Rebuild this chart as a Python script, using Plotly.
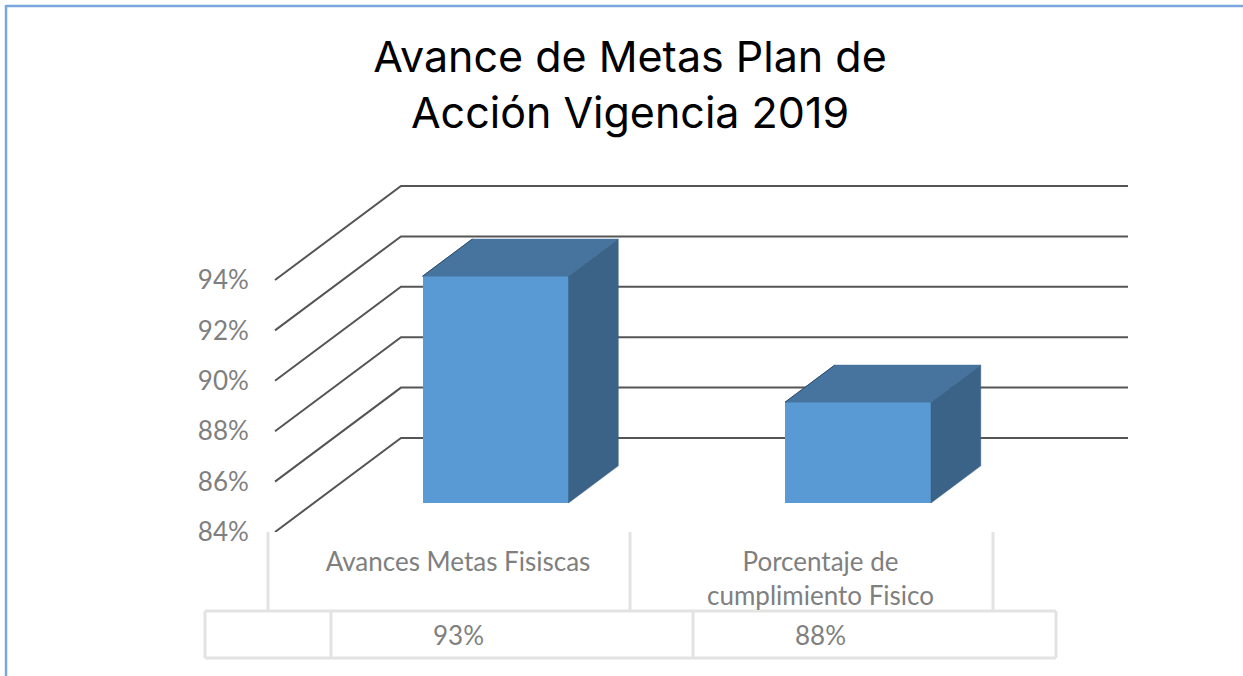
import plotly.graph_objects as go

# ---- data ----
title_text = "Avance de Metas Plan de<br>Acción Vigencia 2019"
categories = ["Avances Metas Fisiscas", "Porcentaje de<br>cumplimiento Fisico"]
values = [93, 88]
value_labels = ["93%", "88%"]
y_ticks = [84, 86, 88, 90, 92, 94]
y_tick_labels = ["84%", "86%", "88%", "90%", "92%", "94%"]

# ---- page geometry (pixels) ----
W, H = 1243, 676
PLOT_L, PLOT_R, PLOT_T, PLOT_B = 268, 1128, 185, 532
CAT_PX = 362.5          # pixels per category
CAT0_PX = 458           # pixel of first category label
PCT_PX = 25.2           # pixels per percentage point

x_range = [(PLOT_L - CAT0_PX) / CAT_PX, (PLOT_R - CAT0_PX) / CAT_PX]
y_range = [84, 84 + (PLOT_B - PLOT_T) / PCT_PX]

# oblique depth of the 3D floor, in axis units
DEPTH_X = 126 / CAT_PX
DEPTH_Y = 94 / PCT_PX
BAR_D0 = 0.3085         # depth where a bar's front face sits
BAR_D = 0.395           # depth of a bar
BAR_W = 146 / CAT_PX
BAR_SHIFT = (495.5 - CAT0_PX) / CAT_PX
WALL_X0 = (275 - CAT0_PX) / CAT_PX

FRONT, TOP, SIDE = "#5A9AD4", "#46749F", "#3A6387"
GRID = "#555555"
TEXT = "#7f7f7f"
TABLE = "#e3e3e3"
FONT = "Lato, Carlito, sans-serif"


def paper_line(x0, y0, x1, y1, color, width):
    return dict(type="line", xref="paper", yref="paper",
                x0=(x0 - PLOT_L) / (PLOT_R - PLOT_L), x1=(x1 - PLOT_L) / (PLOT_R - PLOT_L),
                y0=(PLOT_B - y0) / (PLOT_B - PLOT_T), y1=(PLOT_B - y1) / (PLOT_B - PLOT_T),
                line=dict(color=color, width=width), layer="below")


fig = go.Figure()

# gridlines on the side wall and back wall
for t in y_ticks:
    fig.add_trace(go.Scatter(
        x=[WALL_X0, WALL_X0 + DEPTH_X, x_range[1]],
        y=[t, t + DEPTH_Y, t + DEPTH_Y],
        mode="lines", line=dict(color=GRID, width=2),
        hoverinfo="skip", showlegend=False, cliponaxis=False))

# bar front faces
bar_x = [i + BAR_SHIFT for i in range(len(values))]
bar_base = 84 + BAR_D0 * DEPTH_Y
fig.add_trace(go.Bar(
    x=bar_x, y=[v - 84 for v in values], base=bar_base, width=BAR_W,
    marker=dict(color=FRONT, line=dict(width=0)),
    xaxis="x2", yaxis="y2", showlegend=False, hoverinfo="skip"))

# bar top and side faces
dx, dy = BAR_D * DEPTH_X, BAR_D * DEPTH_Y
for xc, v in zip(bar_x, values):
    l, r = xc - BAR_W / 2, xc + BAR_W / 2
    vt = bar_base + v - 84
    fig.add_trace(go.Scatter(
        x=[l, r, r + dx, l + dx, l], y=[vt, vt, vt + dy, vt + dy, vt],
        mode="lines", fill="toself", fillcolor=TOP, line=dict(color=TOP, width=0.5),
        xaxis="x2", yaxis="y2", showlegend=False, hoverinfo="skip"))
    fig.add_trace(go.Scatter(
        x=[r, r + dx, r + dx, r, r],
        y=[bar_base, bar_base + dy, vt + dy, vt, bar_base],
        mode="lines", fill="toself", fillcolor=SIDE, line=dict(color=SIDE, width=0.5),
        xaxis="x2", yaxis="y2", showlegend=False, hoverinfo="skip"))
    fig.add_trace(go.Scatter(
        x=[l, l + dx], y=[vt, vt + dy],
        mode="lines", line=dict(color="#2b4a68", width=1),
        xaxis="x2", yaxis="y2", showlegend=False, hoverinfo="skip"))

shapes = []
# page border (top and left)
shapes.append(paper_line(6, 6, W + 20, 6, "#7BA7DE", 2.5))
shapes.append(paper_line(6, 5, 6, H + 20, "#7BA7DE", 2.5))
# category separators
for x in [268, 630, 993]:
    shapes.append(paper_line(x, 532, x, 611, TABLE, 3))
# data table
shapes.append(paper_line(205, 611, 1056, 611, TABLE, 3))
shapes.append(paper_line(205, 658, 1056, 658, TABLE, 3))
for x in [205, 331, 693, 1056]:
    shapes.append(paper_line(x, 611, x, 658, TABLE, 3))

annotations = [
    dict(x=i, y=(PLOT_B - 635) / (PLOT_B - PLOT_T), xref="x", yref="paper",
         text=lab, showarrow=False, xanchor="center", yanchor="middle",
         font=dict(family=FONT, size=26, color=TEXT))
    for i, lab in enumerate(value_labels)
]

fig.update_layout(
    width=W, height=H,
    margin=dict(l=PLOT_L, r=W - PLOT_R, t=PLOT_T, b=H - PLOT_B, pad=0),
    paper_bgcolor="white", plot_bgcolor="rgba(0,0,0,0)",
    showlegend=False, bargap=0,
    title=dict(text=title_text, x=630 / W, xanchor="center", xref="container",
               y=1 - 72 / H, yanchor="middle",
               font=dict(family="Inter, sans-serif", size=43, color="#000000")),
    xaxis=dict(range=x_range, tickmode="array", tickvals=list(range(len(categories))),
               ticktext=categories, showgrid=False, zeroline=False, showline=False,
               ticks="outside", ticklen=7, tickcolor="rgba(0,0,0,0)",
               tickfont=dict(family=FONT, size=26, color=TEXT), tickangle=0),
    yaxis=dict(range=y_range, tickmode="array", tickvals=y_ticks, ticktext=y_tick_labels,
               showgrid=False, zeroline=False, showline=False,
               ticks="outside", ticklen=13, tickcolor="rgba(0,0,0,0)",
               tickfont=dict(family=FONT, size=26, color=TEXT)),
    xaxis2=dict(range=x_range, overlaying="x", visible=False),
    yaxis2=dict(range=y_range, overlaying="y", visible=False),
    shapes=shapes, annotations=annotations,
)

fig.write_html("out.html", post_script="document.body.style.margin='0';document.body.style.overflow='hidden';",
               config={"displayModeBar": False})
